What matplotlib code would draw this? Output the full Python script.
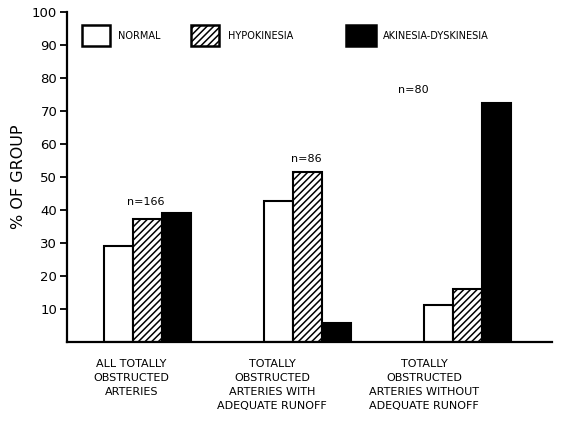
import numpy as np
import matplotlib
matplotlib.use("Agg")
import matplotlib.pyplot as plt
from matplotlib.patches import Rectangle

plt.rcParams['hatch.linewidth'] = 1.1
plt.rcParams['font.family'] = ['DejaVu Sans']

categories = ["ALL TOTALLY\nOBSTRUCTED\nARTERIES",
              "TOTALLY\nOBSTRUCTED\nARTERIES WITH\nADEQUATE RUNOFF",
              "TOTALLY\nOBSTRUCTED\nARTERIES WITHOUT\nADEQUATE RUNOFF"]
series_names = ["NORMAL", "HYPOKINESIA", "AKINESIA-DYSKINESIA"]
normal = [29, 42.7, 11.2]
hypokinesia = [37.4, 51.5, 16]
akinesia = [39, 5.8, 72.5]
n_labels = ["n=166", "n=86", "n=80"]
n_label_y = [42.5, 55.5, 76.5]
n_label_dx = [-0.01, -0.01, -0.34]
cat_label_dx = [-0.10, -0.22, -0.27]
yticks = [10, 20, 30, 40, 50, 60, 70, 80, 90, 100]

fig = plt.figure(figsize=(5.79, 4.21), dpi=100)
ax = fig.add_axes([67/579, 1-342/421, 485/579, 330/421])

x = np.arange(len(categories))
w = 0.18
styles = [dict(facecolor='white', hatch=None),
          dict(facecolor='white', hatch='/////'),
          dict(facecolor='black', hatch=None)]
for i, (vals, st) in enumerate(zip([normal, hypokinesia, akinesia], styles)):
    ax.bar(x + (i-1)*w, vals, width=w, edgecolor='black', linewidth=1.5,
           facecolor=st['facecolor'], hatch=st['hatch'], zorder=2)

for xi, lab, yy, dx in zip(x, n_labels, n_label_y, n_label_dx):
    ax.text(xi + dx, yy, lab, ha='center', va='center', fontsize=8)

ax.set_xlim(-0.503, 2.528)
ax.set_ylim(0, 100)
ax.set_yticks(yticks)
ax.set_yticklabels([str(t) for t in yticks], fontsize=9.5)
ax.tick_params(axis='y', direction='out', length=5, width=1.3, pad=2)
ax.set_xticks(x + np.array(cat_label_dx))
ax.set_xticklabels(categories, fontsize=8, linespacing=1.5)
ax.tick_params(axis='x', length=0, pad=12)
for s in ['top', 'right']:
    ax.spines[s].set_visible(False)
ax.spines['left'].set_linewidth(1.6)
ax.spines['bottom'].set_linewidth(1.6)
ax.set_ylabel("% OF GROUP", fontsize=11.5, labelpad=4)

# legend drawn in axes fraction
box_x = [(82-67)/485, (191-67)/485, (346-67)/485]
box_w = [28/485, 28/485, 30/485]
text_x = [(118-67)/485, (228-67)/485, (383-67)/485]
by0 = (342-46)/330
bh = 21/330
for i, name in enumerate(series_names):
    st = styles[i]
    r = Rectangle((box_x[i], by0), box_w[i], bh, transform=ax.transAxes,
                  facecolor=st['facecolor'], hatch=st['hatch'], edgecolor='black',
                  linewidth=1.8, clip_on=False)
    ax.add_patch(r)
    ax.text(text_x[i], by0 + bh/2, name, transform=ax.transAxes, fontsize=7,
            ha='left', va='center')

fig.savefig("out.png", dpi=100)
